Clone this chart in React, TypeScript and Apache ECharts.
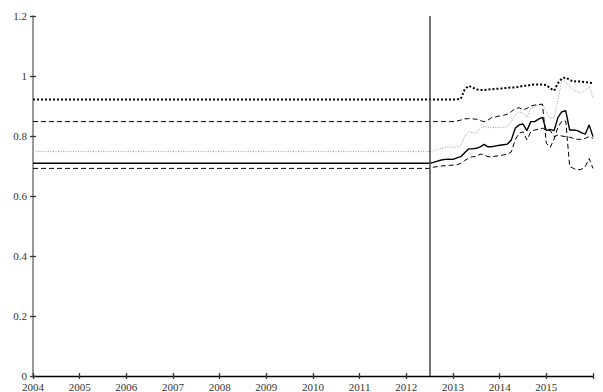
import React, { useEffect, useRef } from "react";
import * as echarts from "echarts";

const startYear = 2004;
const splitYear = 2012.5;
const endYear = 2016;
const xTickLabels = ["2004","2005","2006","2007","2008","2009","2010","2011","2012","2013","2014","2015"];

// monthly values from 2012.5 onward (43 points)
const solid = [0.709,0.712,0.716,0.72,0.722,0.723,0.722,0.727,0.731,0.744,0.757,0.757,0.759,0.764,0.772,0.764,0.764,0.767,0.769,0.771,0.773,0.787,0.826,0.837,0.84,0.818,0.848,0.848,0.856,0.862,0.818,0.822,0.818,0.862,0.881,0.884,0.82,0.82,0.818,0.811,0.806,0.837,0.798];
const topDotted = [0.922,0.922,0.922,0.922,0.922,0.922,0.922,0.922,0.924,0.955,0.967,0.962,0.955,0.953,0.953,0.955,0.956,0.957,0.958,0.959,0.961,0.962,0.962,0.964,0.967,0.968,0.97,0.972,0.972,0.972,0.97,0.959,0.951,0.976,0.992,0.995,0.987,0.981,0.983,0.981,0.98,0.978,0.976];
const grayDotted = [0.748,0.751,0.755,0.759,0.762,0.764,0.762,0.764,0.767,0.798,0.814,0.812,0.809,0.826,0.833,0.829,0.828,0.828,0.829,0.829,0.831,0.848,0.87,0.881,0.876,0.862,0.892,0.9,0.903,0.906,0.881,0.859,0.862,0.92,0.989,0.981,0.964,0.953,0.948,0.942,0.953,0.964,0.929];
const upperDashed = [0.848,0.848,0.848,0.848,0.848,0.848,0.848,0.85,0.853,0.857,0.858,0.857,0.856,0.851,0.848,0.853,0.862,0.864,0.867,0.869,0.873,0.881,0.892,0.894,0.887,0.892,0.9,0.903,0.905,0.906,0.776,0.762,0.79,0.83,0.85,0.85,0.698,0.692,0.687,0.689,0.698,0.725,0.692];
const lowerDashed = [0.692,0.696,0.698,0.7,0.701,0.702,0.703,0.704,0.709,0.718,0.726,0.731,0.731,0.74,0.737,0.731,0.731,0.733,0.734,0.737,0.739,0.747,0.787,0.809,0.814,0.787,0.814,0.82,0.822,0.826,0.82,0.818,0.798,0.803,0.8,0.798,0.796,0.792,0.789,0.789,0.792,0.798,0.792];

const monthX = solid.map((_, i) => splitYear + i / 12);
const build = (vals: number[]) => [[startYear, vals[0]], ...vals.map((v, i) => [monthX[i], v])];

const font = "'Liberation Serif', 'DejaVu Serif', serif";

export default function App() {
  const ref = useRef<HTMLDivElement>(null);
  useEffect(() => {
    const chart = echarts.init(ref.current!, null, { renderer: "svg" });
    const xBase = {
      type: "value" as const,
      min: startYear,
      max: endYear,
      interval: 1,
      splitLine: { show: false },
    };
    const yBase = {
      type: "value" as const,
      min: 0,
      max: 1.2,
      interval: 0.2,
      splitLine: { show: false },
    };
    chart.setOption({
      animation: false,
      grid: { left: 33, right: 10, top: 16, bottom: 16, containLabel: false },
      xAxis: [
        {
          ...xBase,
          axisLine: { lineStyle: { color: "#000", width: 1.3 } },
          axisTick: { show: true, length: 3, lineStyle: { color: "#333", width: 1.3 } },
          axisLabel: {
            fontFamily: font, fontSize: 11, color: "#333", margin: 5,
            formatter: (v: number) => (v < endYear ? xTickLabels[Math.round(v) - startYear] : ""),
          },
        },
        {
          ...xBase,
          position: "bottom",
          axisLine: { show: false },
          axisTick: { show: true, inside: true, length: 3, lineStyle: { color: "#333", width: 1.3 } },
          axisLabel: { show: false },
        },
      ],
      yAxis: [
        {
          ...yBase,
          axisLine: { show: true, lineStyle: { color: "#777", width: 1.5 } },
          axisTick: { show: true, length: 3, lineStyle: { color: "#333", width: 1.3 } },
          axisLabel: {
            fontFamily: font, fontSize: 11, color: "#333", margin: 6,
            formatter: (v: number) => String(Math.round(v * 10) / 10),
          },
        },
        {
          ...yBase,
          position: "left",
          axisLine: { show: false },
          axisTick: { show: true, inside: true, length: 3, lineStyle: { color: "#333", width: 1.3 } },
          axisLabel: { show: false },
        },
      ],
      series: [
        {
          type: "line", data: build(grayDotted), symbol: "none",
          lineStyle: { color: "#999", width: 1, type: [1, 1.5] },
        },
        {
          type: "line", data: build(topDotted), symbol: "none",
          lineStyle: { color: "#000", width: 2, type: [2, 2] },
        },
        {
          type: "line", data: build(upperDashed), symbol: "none",
          lineStyle: { color: "#000", width: 1, type: [5, 3] },
        },
        {
          type: "line", data: build(lowerDashed), symbol: "none",
          lineStyle: { color: "#000", width: 1, type: [5, 3] },
        },
        {
          type: "line", data: build(solid), symbol: "none",
          lineStyle: { color: "#000", width: 1.4 },
          markLine: {
            silent: true, symbol: "none", label: { show: false },
            lineStyle: { color: "#444", width: 1.5, type: "solid" },
            data: [{ xAxis: splitYear }],
          },
        },
      ],
    });
    return () => chart.dispose();
  }, []);
  return <div ref={ref} style={{ width: 603, height: 392, position: "absolute", left: 0, top: 0, background: "#fff" }} />;
}
